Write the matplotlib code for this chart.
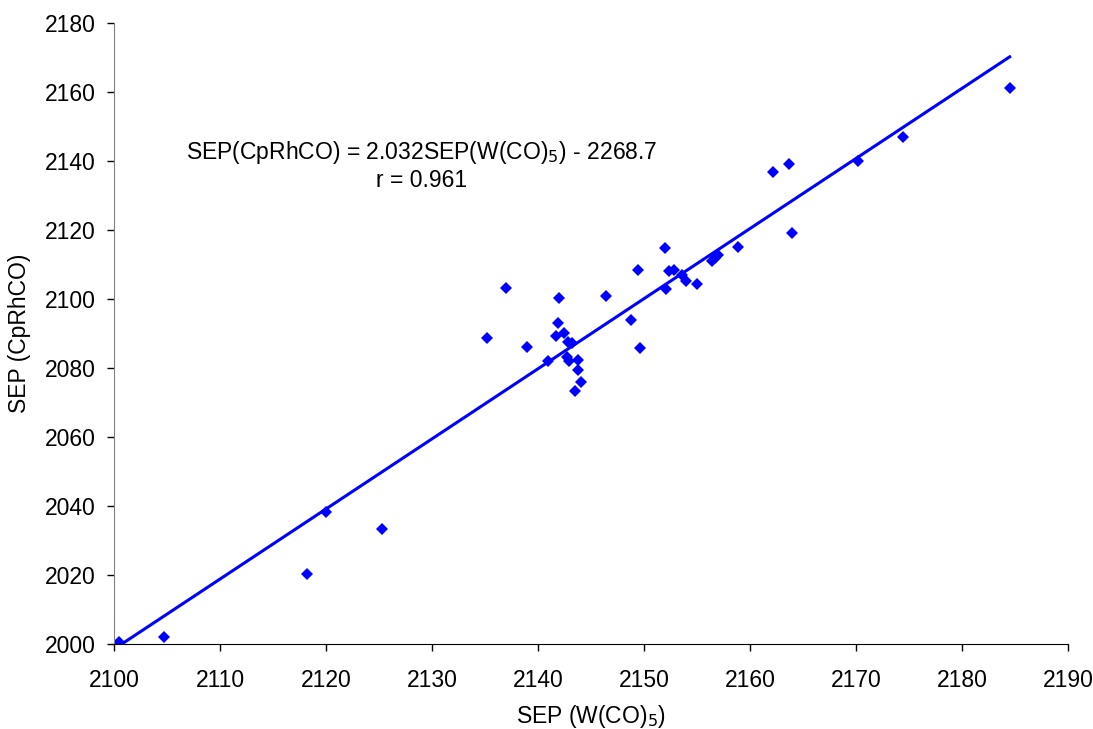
import numpy as np
import matplotlib.pyplot as plt

plt.rcParams['font.family'] = ['Liberation Sans', 'DejaVu Sans']

# ----- Datos -----
sep_w = [2100.5, 2104.7, 2118.2, 2120.0, 2125.3,
         2135.2, 2137.0, 2139.0, 2142.0, 2141.9, 2141.7, 2142.5, 2142.8, 2143.2,
         2140.9, 2142.7, 2142.9, 2143.8, 2143.8, 2144.1, 2143.5,
         2146.4, 2148.8, 2149.6, 2149.4, 2152.0, 2152.1, 2152.4, 2152.8,
         2153.6, 2154.0, 2155.0, 2156.4, 2156.7, 2157.0, 2158.9, 2164.0,
         2162.2, 2163.7, 2170.2, 2174.4, 2184.5]
sep_rh = [2000.7, 2002.1, 2020.2, 2038.3, 2033.3,
          2088.7, 2103.1, 2086.2, 2100.3, 2093.0, 2089.2, 2090.2, 2087.6, 2087.3,
          2081.9, 2083.3, 2082.1, 2082.2, 2079.4, 2076.0, 2073.2,
          2101.0, 2093.9, 2085.7, 2108.5, 2114.8, 2103.0, 2108.1, 2108.4,
          2107.1, 2105.3, 2104.4, 2111.1, 2111.8, 2112.8, 2115.2, 2119.1,
          2136.9, 2139.2, 2140.0, 2146.9, 2161.3]

PENDIENTE = 2.032
INTERCEPTO = -2268.7
R = 0.961

# ----- Gráfico -----
fig = plt.figure(figsize=(10.93, 7.29), dpi=100)
ax = fig.add_axes([0.1043, 0.1166, 0.8728, 0.8518])

x_fit = np.array([min(sep_w), max(sep_w)])
ax.plot(x_fit, PENDIENTE * x_fit + INTERCEPTO, color='#0000FF', lw=2.2)
ax.plot(sep_w, sep_rh, 'D', color='#0000FF', markersize=6, markeredgewidth=0)

ax.set_xlim(2100, 2190)
ax.set_ylim(2000, 2180)
ax.set_xticks(np.arange(2100, 2191, 10))
ax.set_yticks(np.arange(2000, 2181, 20))
ax.tick_params(labelsize=16.5, length=5, width=1, direction='out')
ax.tick_params(axis='x', pad=13)
ax.tick_params(axis='y', pad=8)
ax.spines['top'].set_visible(False)
ax.spines['right'].set_visible(False)
ax.spines['left'].set_color('#808080')
ax.spines['bottom'].set_color('black')

ax.set_xlabel('SEP (W(CO)$_5$)', fontsize=16.5, labelpad=8)
ax.set_ylabel('SEP (CpRhCO)', fontsize=16.5, labelpad=10)

ax.text(2129.0, 2142.6, f'SEP(CpRhCO) = {PENDIENTE:.3f}SEP(W(CO)$_5$) - {-INTERCEPTO:.1f}',
        fontsize=16.5, ha='center', va='center')
ax.text(2129.0, 2134.5, f'r = {R:.3f}', fontsize=16.5, ha='center', va='center')

plt.savefig('out.png', dpi=100)
